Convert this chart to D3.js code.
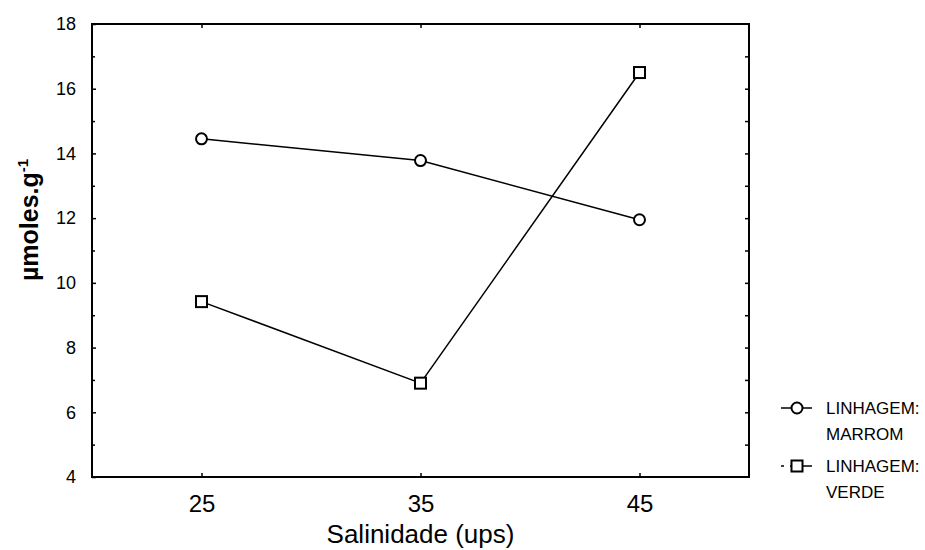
<!DOCTYPE html>
<html>
<head>
<meta charset="utf-8">
<script src="https://cdn.jsdelivr.net/npm/d3@7"></script>
<style>
  body { margin: 0; background: #fff; }
  text { font-family: Arial, "Liberation Sans", sans-serif; fill: #000; }
</style>
</head>
<body>
<div class="chart"></div>
<script>
//data
var salinidade = ["25", "35", "45"];
var marrom = [14.45, 13.78, 11.95];
var verde = [9.42, 6.9, 16.5];
var yTicks = [4, 6, 8, 10, 12, 14, 16, 18];
var legendLabels = [["LINHAGEM:", "MARROM"], ["LINHAGEM:", "VERDE"]];

//svg dimension
var svgWidth = 925;
var svgHeight = 550;

var margin = { top: 24, right: 176, bottom: 73, left: 92 };
var chartWidth = svgWidth - margin.left - margin.right;
var chartHeight = svgHeight - margin.top - margin.bottom;

var svg = d3.select(".chart")
  .append("svg")
  .attr("width", svgWidth)
  .attr("height", svgHeight);

var chartGroup = svg.append("g")
  .attr("transform", `translate(${margin.left}, ${margin.top})`);

//scales
var xScale = d3.scalePoint()
  .domain(salinidade)
  .range([0, chartWidth])
  .padding(0.5);

var yScale = d3.scaleLinear()
  .domain([4, 18])
  .range([chartHeight, 0]);

//left axis: major ticks with labels, minor ticks on odd values
var leftAxis = d3.axisLeft(yScale)
  .tickValues(yTicks)
  .tickSize(-4)
  .tickPadding(16)
  .tickFormat(d3.format("d"));

var yAxis = chartGroup.append("g").call(leftAxis);
yAxis.select(".domain").remove();
yAxis.selectAll("text").style("font-size", "18px");

chartGroup.append("g")
  .call(d3.axisLeft(yScale).tickValues(d3.range(5, 18, 2)).tickSize(-3).tickFormat(""))
  .select(".domain").remove();

//right axis ticks on every unit
chartGroup.append("g")
  .attr("transform", `translate(${chartWidth}, 0)`)
  .call(d3.axisRight(yScale).tickValues(d3.range(5, 18)).tickSize(-4).tickFormat(""))
  .select(".domain").remove();

//bottom axis
var xAxis = chartGroup.append("g")
  .attr("transform", `translate(0, ${chartHeight})`)
  .call(d3.axisBottom(xScale).tickSize(-4).tickPadding(18));
xAxis.select(".domain").remove();
xAxis.selectAll("text").style("font-size", "24px");

//top axis ticks
chartGroup.append("g")
  .call(d3.axisTop(xScale).tickSize(-4).tickFormat(""))
  .select(".domain").remove();

chartGroup.selectAll(".tick line")
  .attr("stroke", "#000")
  .attr("stroke-width", 1.5);

//frame
chartGroup.append("rect")
  .attr("width", chartWidth)
  .attr("height", chartHeight)
  .attr("fill", "none")
  .attr("stroke", "#000")
  .attr("stroke-width", 2);

//lines
var line = d3.line()
  .x((d, i) => xScale(salinidade[i]))
  .y(d => yScale(d));

[marrom, verde].forEach(series => {
  chartGroup.append("path")
    .datum(series)
    .attr("d", line)
    .attr("fill", "none")
    .attr("stroke", "#000")
    .attr("stroke-width", 1.5);
});

//markers
chartGroup.selectAll(".circ")
  .data(marrom)
  .enter()
  .append("circle")
  .attr("cx", (d, i) => xScale(salinidade[i]))
  .attr("cy", d => yScale(d))
  .attr("r", 5.5)
  .attr("fill", "#fff")
  .attr("stroke", "#000")
  .attr("stroke-width", 2);

chartGroup.selectAll(".sq")
  .data(verde)
  .enter()
  .append("rect")
  .attr("x", (d, i) => xScale(salinidade[i]) - 5.5)
  .attr("y", d => yScale(d) - 5.5)
  .attr("width", 11)
  .attr("height", 11)
  .attr("fill", "#fff")
  .attr("stroke", "#000")
  .attr("stroke-width", 2);

//axis titles
svg.append("text")
  .attr("x", margin.left + chartWidth / 2)
  .attr("y", 543)
  .attr("text-anchor", "middle")
  .style("font-size", "26px")
  .text("Salinidade (ups)");

var yTitle = svg.append("text")
  .attr("transform", "translate(38, 220) rotate(-90)")
  .attr("text-anchor", "middle")
  .style("font-size", "25px")
  .style("font-weight", "bold");
yTitle.append("tspan").text("µmoles.g");
yTitle.append("tspan").attr("dy", "-10").style("font-size", "15px").text("-1");

//legend
var legend = svg.append("g");
legendLabels.forEach((lab, i) => {
  var ly = 408 + i * 58;
  legend.append("line")
    .attr("x1", 781).attr("x2", 812)
    .attr("y1", ly).attr("y2", ly)
    .attr("stroke", "#000")
    .attr("stroke-width", 1.5)
    .attr("stroke-dasharray", i === 0 ? null : "3,6,23");
  if (i === 0) {
    legend.append("circle")
      .attr("cx", 797).attr("cy", ly).attr("r", 5.5)
      .attr("fill", "#fff").attr("stroke", "#000").attr("stroke-width", 2);
  } else {
    legend.append("rect")
      .attr("x", 791.5).attr("y", ly - 5.5).attr("width", 11).attr("height", 11)
      .attr("fill", "#fff").attr("stroke", "#000").attr("stroke-width", 2);
  }
  lab.forEach((t, j) => {
    legend.append("text")
      .attr("x", 826)
      .attr("y", ly + 6 + j * 26)
      .style("font-size", "17px")
      .text(t);
  });
});
</script>
</body>
</html>
